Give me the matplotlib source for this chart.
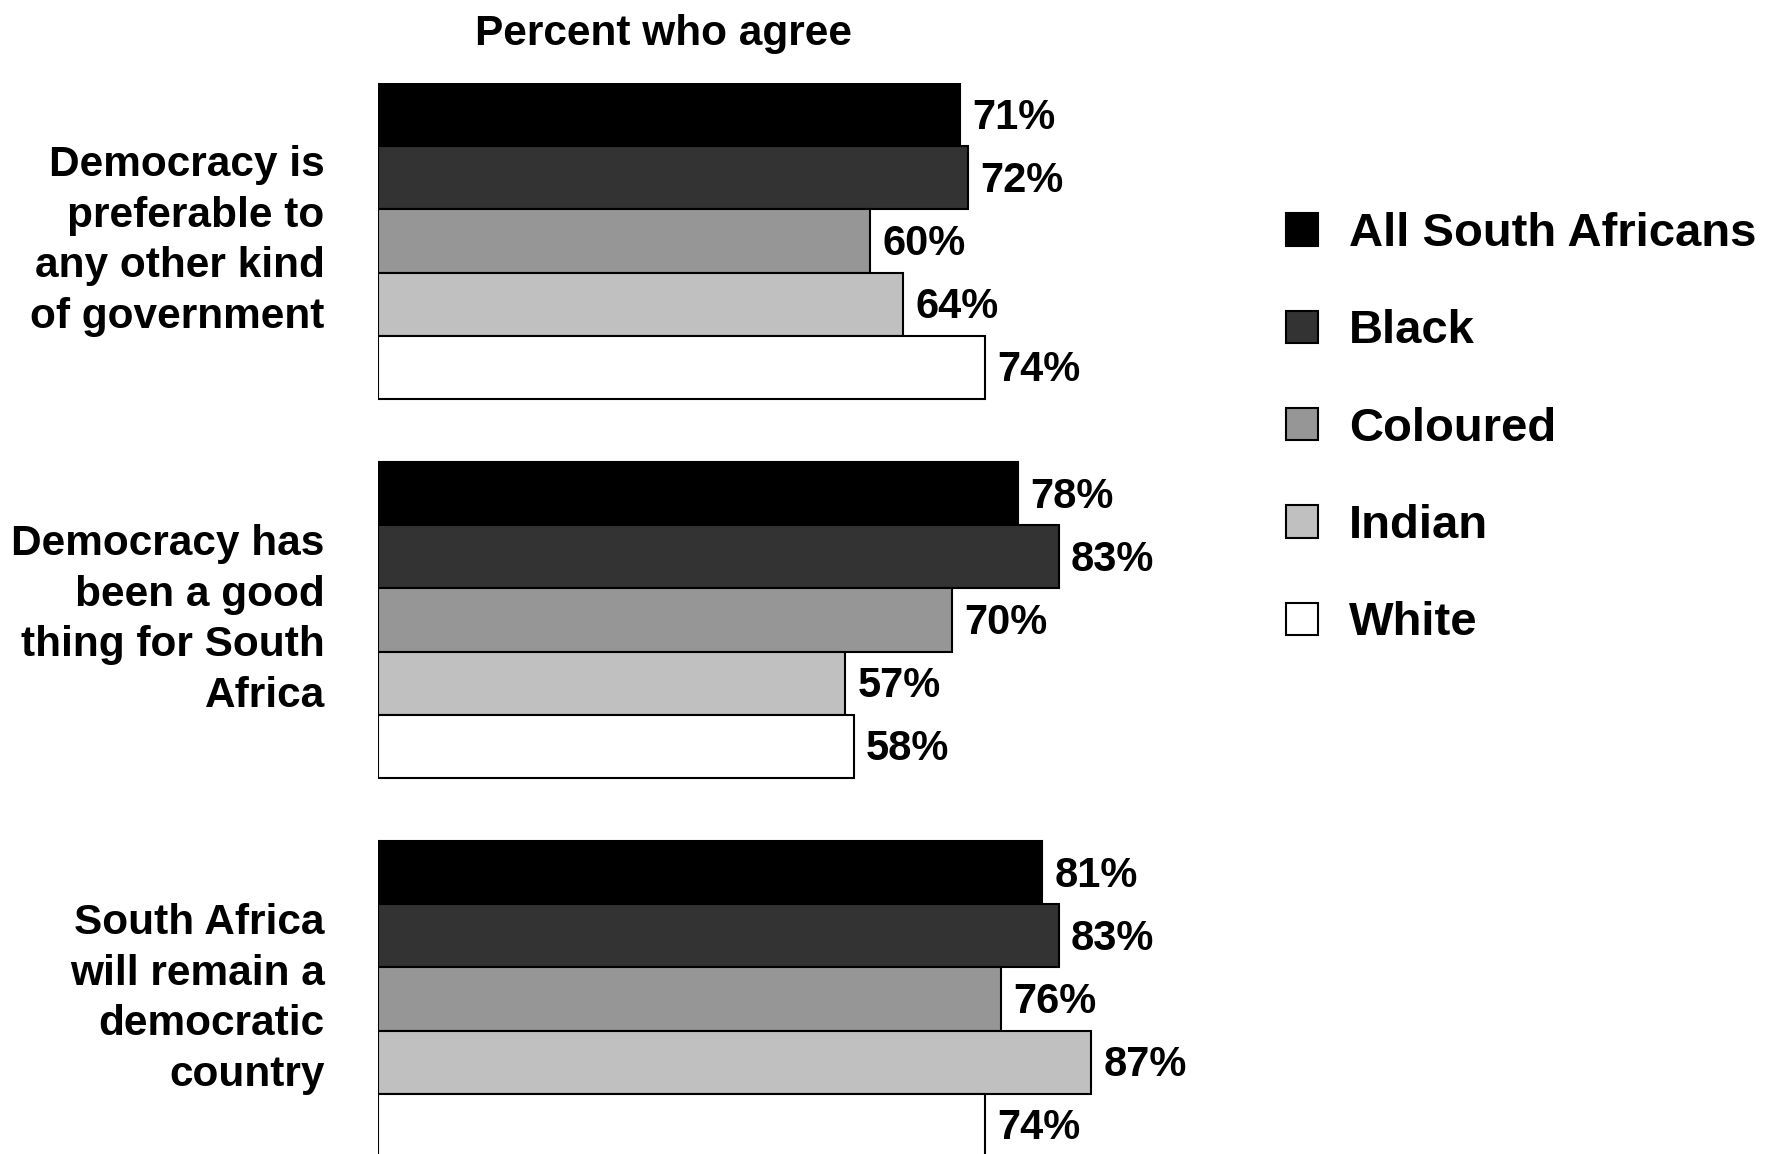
import numpy as np
import matplotlib
matplotlib.use("Agg")
import matplotlib.pyplot as plt
from matplotlib.patches import Patch

plt.rcParams['font.family'] = ['Liberation Sans', 'DejaVu Sans']
plt.rcParams['font.weight'] = 'bold'

# data
questions = [
    "Democracy is\npreferable to\nany other kind\nof government",
    "Democracy has\nbeen a good\nthing for South\nAfrica",
    "South Africa\nwill remain a\ndemocratic\ncountry",
]
groups = ["All South Africans", "Black", "Coloured", "Indian", "White"]
all_sa = [71, 78, 81]
black = [72, 83, 83]
coloured = [60, 70, 76]
indian = [64, 57, 87]
white = [74, 58, 74]
colors = ["#000000", "#333333", "#969696", "#c0c0c0", "#ffffff"]

series = [all_sa, black, coloured, indian, white]

fig = plt.figure(figsize=(17.69, 11.54), dpi=100)
W, H = 1769, 1154
x0, px_per_pct = 378, 8.2
top, bar_px = 83, 63.17
ax = fig.add_axes([x0 / W, 1 - (top + 17 * bar_px) / H, 100 * px_per_pct / W, 17 * bar_px / H])

for i, (vals, col) in enumerate(zip(series, colors)):
    ypos = np.arange(len(questions)) * 6 + i
    ax.barh(ypos, vals, height=1.0, color=col, edgecolor="black", linewidth=1.5)
    for y, v in zip(ypos, vals):
        ax.text(v + 1.5, y + 0.05, f"{v}%", ha="left", va="center", fontsize=30, fontweight="bold")

ax.set_xlim(0, 100)
ax.set_ylim(16.5, -0.5)
ax.axis("off")

for g, q in enumerate(questions):
    ax.text(-6.5, g * 6 + 2, q, ha="right", va="center", fontsize=30.5,
            fontweight="bold", linespacing=1.34)

fig.text(663 / W, 1 - 34 / H, "Percent who agree", ha="center", va="center",
         fontsize=30.5, fontweight="bold")

handles = [Patch(facecolor=c, edgecolor="black", linewidth=1.5) for c in colors]
fig.legend(handles, groups, loc="upper left", bbox_to_anchor=(1286 / W, 1 - 212 / H),
           frameon=False, handlelength=0.68, handleheight=0.68,
           handletextpad=0.66, labelspacing=1.13, borderpad=0, borderaxespad=0,
           prop={"weight": "bold", "size": 34})

fig.savefig("out.png", dpi=100)
